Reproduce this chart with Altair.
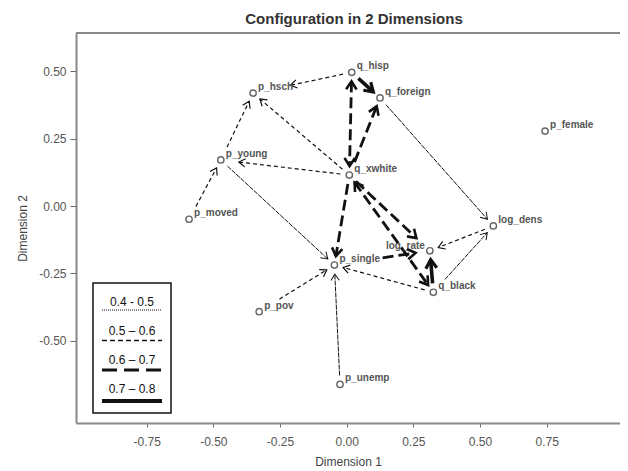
import math
import altair as alt
import pandas as pd

# ---------------- data ----------------
names = ["q_hisp", "p_hsch", "q_foreign", "p_female", "p_young", "q_xwhite",
         "p_moved", "log_dens", "log_rate", "p_single", "q_black", "p_pov", "p_unemp"]
dim1 = [0.019, -0.351, 0.125, 0.744, -0.472, 0.010,
        -0.591, 0.550, 0.312, -0.046, 0.325, -0.328, -0.025]
dim2 = [0.496, 0.419, 0.401, 0.278, 0.171, 0.115,
        -0.049, -0.074, -0.166, -0.219, -0.320, -0.392, -0.662]

edge_from = ["q_hisp", "q_hisp", "q_hisp", "q_xwhite", "q_xwhite", "q_xwhite", "q_xwhite",
             "p_young", "p_moved", "p_young", "q_foreign", "q_xwhite", "q_xwhite", "q_xwhite",
             "q_black", "p_single", "q_black", "log_dens", "q_black", "q_black", "p_pov", "p_unemp"]
edge_to = ["p_hsch", "q_foreign", "q_xwhite", "q_hisp", "q_foreign", "p_hsch", "p_young",
           "p_hsch", "p_young", "p_single", "log_dens", "p_single", "log_rate", "q_black",
           "q_xwhite", "log_rate", "log_rate", "log_rate", "p_single", "log_dens", "p_single", "p_single"]
edge_class = ["0.5-0.6", "0.7-0.8", "0.6-0.7", "0.6-0.7", "0.6-0.7", "0.5-0.6", "0.5-0.6",
              "0.5-0.6", "0.5-0.6", "0.4-0.5", "0.4-0.5", "0.6-0.7", "0.6-0.7", "0.6-0.7",
              "0.6-0.7", "0.6-0.7", "0.7-0.8", "0.5-0.6", "0.5-0.6", "0.4-0.5", "0.5-0.6", "0.4-0.5"]

classes = ["0.4-0.5", "0.5-0.6", "0.6-0.7", "0.7-0.8"]
legend_labels = ["0.4 - 0.5", "0.5 \u2013 0.6", "0.6 \u2013 0.7", "0.7 \u2013 0.8"]

x_ticks = [-0.75, -0.5, -0.25, 0.0, 0.25, 0.5, 0.75]
y_ticks = [-0.5, -0.25, 0.0, 0.25, 0.5]
title_text = "Configuration in 2 Dimensions"

# ---------------- layout / style ----------------
W, H = 544, 390
X_DOM = [-1.015, 1.025]
Y_DOM = [-0.805, 0.642]
KX = W / (X_DOM[1] - X_DOM[0])
KY = H / (Y_DOM[1] - Y_DOM[0])
NODE_R = 9.0
CHAR_W = 5.4
LEFT_LABELS = ["log_rate"]

STYLE = {
    "0.4-0.5": dict(dash=[5, 1], width=1.0, head=7.5, hw=1.0),
    "0.5-0.6": dict(dash=[4, 3], width=1.2, head=7.5, hw=1.2),
    "0.6-0.7": dict(dash=[11, 5], width=2.8, head=9.5, hw=2.6),
    "0.7-0.8": dict(dash=None, width=3.6, head=10.0, hw=3.2),
}
LEG_STYLE = {
    "0.4-0.5": dict(dash=[1, 1], width=1.0),
    "0.5-0.6": dict(dash=[5, 3], width=1.3),
    "0.6-0.7": dict(dash=[15, 7], width=3.0),
    "0.7-0.8": dict(dash=None, width=4.0),
}

pos = {n: (x * KX, -y * KY) for n, x, y in zip(names, dim1, dim2)}


def exit_dist(name, ux, uy):
    cx, cy = pos[name]
    w = len(name) * CHAR_W
    if name in LEFT_LABELS:
        x0, x1 = cx - 4 - w, cx - 4
    else:
        x0, x1 = cx + 4, cx + 4 + w
    y0, y1 = cy - 12, cy + 2
    tmin, tmax = -1e9, 1e9
    for o, d, lo, hi in ((cx, ux, x0, x1), (cy, uy, y0, y1)):
        if abs(d) < 1e-9:
            if o < lo or o > hi:
                return NODE_R
        else:
            t1, t2 = (lo - o) / d, (hi - o) / d
            tmin = max(tmin, min(t1, t2))
            tmax = min(tmax, max(t1, t2))
    if tmax >= max(tmin, 0):
        return max(NODE_R, tmax + 1)
    return NODE_R


line_rows, head_rows, seen = [], [], set()
for a, b, c in zip(edge_from, edge_to, edge_class):
    ax, ay = pos[a]
    bx, by = pos[b]
    L = math.hypot(bx - ax, by - ay)
    ux, uy = (bx - ax) / L, (by - ay) / L
    s = exit_dist(a, ux, uy)
    e = exit_dist(b, -ux, -uy)
    sx, sy = ax + ux * s, ay + uy * s
    ex, ey = bx - ux * e, by - uy * e
    key = frozenset((a, b))
    if key not in seen:
        seen.add(key)
        line_rows.append(dict(x=sx / KX, y=-sy / KY, x2=ex / KX, y2=-ey / KY, cls=c))
    ang = math.degrees(math.atan2(ux, -uy)) % 360
    head_rows.append(dict(x=ex / KX, y=-ey / KY, ang=ang, cls=c))

lines_df = pd.DataFrame(line_rows)
heads_df = pd.DataFrame(head_rows)
nodes_df = pd.DataFrame({"name": names, "d1": dim1, "d2": dim2})

xs = alt.Scale(domain=X_DOM, nice=False, zero=False)
ys = alt.Scale(domain=Y_DOM, nice=False, zero=False)
FONT = "Liberation Sans"
LAB_EXPR = "(datum.value < 0 ? '-' : '') + format(abs(datum.value), '.2f')"
xaxis = alt.Axis(values=x_ticks, title="Dimension 1", grid=False, labelExpr=LAB_EXPR,
                 labelFont=FONT, labelFontSize=12, labelColor="#555", labelPadding=9,
                 tickSize=4, tickColor="#666", domainColor="#888", domainWidth=2,
                 titleFont=FONT, titleFontSize=12, titleFontWeight="normal", titleColor="#444",
                 titlePadding=9)
yaxis = alt.Axis(values=y_ticks, title="Dimension 2", grid=False, labelExpr=LAB_EXPR,
                 labelFont=FONT, labelFontSize=12, labelColor="#555", labelPadding=4,
                 tickSize=6, tickColor="#666", domainColor="#888", domainWidth=2,
                 titleFont=FONT, titleFontSize=12, titleFontWeight="normal", titleColor="#444",
                 titlePadding=9)


def X(f):
    return alt.X(f, type="quantitative", scale=xs, axis=xaxis)


def Y(f):
    return alt.Y(f, type="quantitative", scale=ys, axis=yaxis)


layers = []
one = pd.DataFrame({"k": [0]})
# top frame line
layers.append(alt.Chart(one).mark_rule(color="#888", strokeWidth=2).encode(
    x=alt.value(0), x2=alt.value(W), y=alt.value(0)))
# title
layers.append(alt.Chart(one).mark_text(
    align="center", baseline="alphabetic", font=FONT, fontSize=15, fontWeight="bold",
    color="#333").encode(x=alt.value(278), y=alt.value(-9), text=alt.value(title_text)))

for c in classes:
    st = STYLE[c]
    kw = dict(color="#111", strokeWidth=st["width"], strokeCap="butt")
    if st["dash"]:
        kw["strokeDash"] = st["dash"]
    d = lines_df[lines_df.cls == c]
    if len(d):
        layers.append(alt.Chart(d).mark_rule(**kw).encode(
            x=X("x"), y=Y("y"), x2="x2", y2="y2"))
    h = heads_df[heads_df.cls == c]
    if len(h):
        layers.append(alt.Chart(h).mark_point(
            shape="M -0.55 0.85 L 0 0 L 0.55 0.85", filled=False, color="#111",
            strokeWidth=st["hw"], size=(2 * st["head"]) ** 2, opacity=1,
            strokeJoin="miter").encode(
            x=X("x"), y=Y("y"), angle=alt.Angle("ang:Q", scale=None)))

layers.append(alt.Chart(nodes_df).mark_point(
    shape="circle", filled=False, color="#666", strokeWidth=1.4, size=40, opacity=1).encode(
    x=X("d1"), y=Y("d2")))

right_lab = nodes_df[~nodes_df.name.isin(LEFT_LABELS)]
left_lab = nodes_df[nodes_df.name.isin(LEFT_LABELS)]
layers.append(alt.Chart(right_lab).mark_text(
    align="left", baseline="middle", dx=5, dy=-6, font=FONT, fontSize=10,
    fontWeight="bold", color="#555").encode(x=X("d1"), y=Y("d2"), text="name"))
layers.append(alt.Chart(left_lab).mark_text(
    align="right", baseline="middle", dx=-5, dy=-5, font=FONT, fontSize=10,
    fontWeight="bold", color="#555").encode(x=X("d1"), y=Y("d2"), text="name"))

# legend box
layers.append(alt.Chart(one).mark_rect(fill="white", stroke="#111", strokeWidth=1.5).encode(
    x=alt.value(17), x2=alt.value(95), y=alt.value(250), y2=alt.value(380)))
leg_text_y = [269, 298, 327, 356]
leg_line_y = [277, 307.5, 337, 368]
for c, lab, ty, ly in zip(classes, legend_labels, leg_text_y, leg_line_y):
    st = LEG_STYLE[c]
    kw = dict(color="#111", strokeWidth=st["width"], strokeCap="butt")
    if st["dash"]:
        kw["strokeDash"] = st["dash"]
    layers.append(alt.Chart(one).mark_rule(**kw).encode(
        x=alt.value(26), x2=alt.value(86), y=alt.value(ly)))
    layers.append(alt.Chart(one).mark_text(
        align="center", baseline="middle", font=FONT, fontSize=12, color="#111").encode(
        x=alt.value(56), y=alt.value(ty), text=alt.value(lab)))

chart = alt.layer(*layers).properties(
    width=W, height=H,
    padding={"left": 68, "top": 25, "right": 0, "bottom": 47},
    autosize=alt.AutoSizeParams(type="none"),
).configure_view(stroke=None)

chart.save("out.html", embed_options={"renderer": "svg", "actions": False})
